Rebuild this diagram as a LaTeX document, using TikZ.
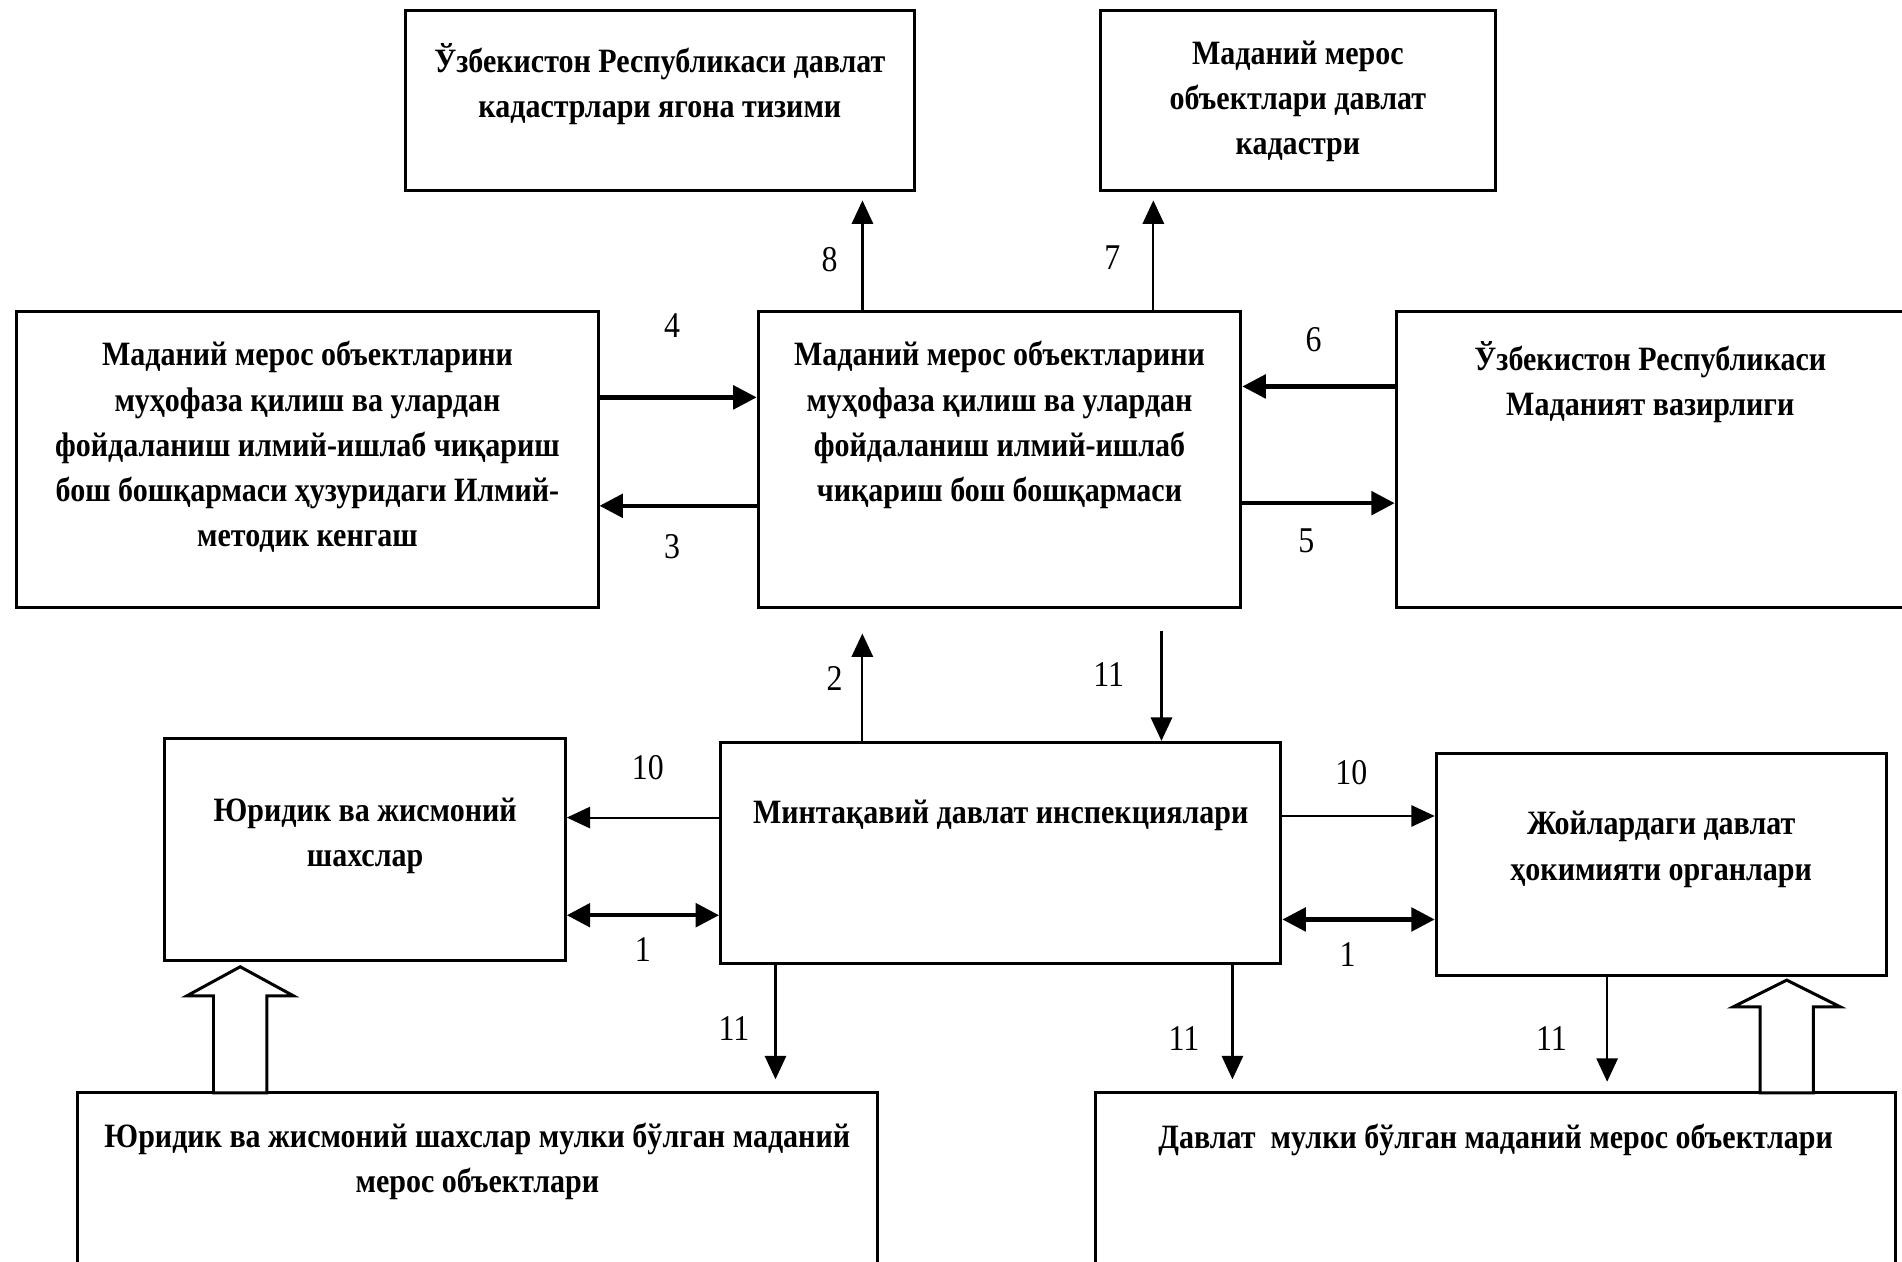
\documentclass[tikz,border=0pt]{standalone}
\usepackage{fontspec}
\setmainfont{Liberation Serif}[FakeStretch=0.88]
\usetikzlibrary{arrows.meta}

\begin{document}
\begin{tikzpicture}[
        box/.style={draw, line width=0.7pt, inner sep=0pt},
        boxtext/.style={anchor=north, align=center, inner sep=0pt, font=\bfseries\fontsize{8}{10.6}\selectfont},
        num/.style={inner sep=0pt, font=\fontsize{8.5}{9}\selectfont},
        arr/.style={-{Triangle[length=5.5pt, width=5pt]}, line width=0.5pt},
        thickarr/.style={-{Triangle[length=5.5pt, width=5.5pt]}, line width=1pt},
        botharr/.style={{Triangle[length=5.5pt, width=5.5pt]}-{Triangle[length=5.5pt, width=5.5pt]}, line width=1pt},
        hollow/.style={draw, line width=0.7pt, fill=white},
        ]
        \useasboundingbox (0,0) rectangle (15.68,-10.40);

        % Boxes
        \node[box, minimum width=4.20cm, minimum height=1.48cm] (unified)   at (5.44,-0.83) {};
        \node[box, minimum width=3.26cm, minimum height=1.48cm] (heritage)  at (10.70,-0.83) {};
        \node[box, minimum width=4.79cm, minimum height=2.44cm] (council)   at (2.535,-3.79) {};
        \node[box, minimum width=3.98cm, minimum height=2.44cm] (board)     at (8.24,-3.79) {};
        \node[box, minimum width=4.19cm, minimum height=2.44cm] (ministry)  at (13.605,-3.79) {};
        \node[box, minimum width=3.30cm, minimum height=1.83cm] (persons)   at (3.01,-7.005) {};
        \node[box, minimum width=4.62cm, minimum height=1.82cm] (inspect)   at (8.25,-7.03) {};
        \node[box, minimum width=3.71cm, minimum height=1.825cm] (authority) at (13.695,-7.1275) {};
        \node[box, minimum width=6.59cm, minimum height=1.44cm] (privobj)   at (3.935,-9.73) {};
        \node[box, minimum width=6.60cm, minimum height=1.44cm] (stateobj)  at (12.33,-9.73) {};

        % Texts
        \node[boxtext] (unifiedtxt)   at ([yshift=-0.27cm]unified.north) {Ўзбекистон Республикаси давлат\\кадастрлари ягона тизими};
        \node[boxtext] (heritagetxt)  at ([yshift=-0.25cm]heritage.north) {Маданий мерос\\объектлари давлат\\кадастри};
        \node[boxtext] (counciltxt)   at ([yshift=-0.25cm]council.north) {Маданий мерос объектларини\\муҳофаза қилиш ва улардан\\фойдаланиш илмий-ишлаб чиқариш\\бош бошқармаси ҳузуридаги Илмий-\\методик кенгаш};
        \node[boxtext] (boardtxt)     at ([yshift=-0.25cm]board.north) {Маданий мерос объектларини\\муҳофаза қилиш ва улардан\\фойдаланиш илмий-ишлаб\\чиқариш бош бошқармаси};
        \node[boxtext] (ministrytxt)  at ([yshift=-0.25cm]ministry.north) {Ўзбекистон Республикаси\\Маданият вазирлиги};
        \node[boxtext] (personstxt)   at ([yshift=-0.49cm]persons.north) {Юридик ва жисмоний\\шахслар};
        \node[boxtext] (inspecttxt)   at ([yshift=-0.48cm]inspect.north) {Минтақавий давлат инспекциялари};
        \node[boxtext] (authoritytxt) at ([yshift=-0.48cm]authority.north) {Жойлардаги давлат\\ҳокимияти органлари};
        \node[boxtext] (privobjtxt)   at ([yshift=-0.25cm]privobj.north) {Юридик ва жисмоний шахслар мулки бўлган маданий\\мерос объектлари};
        \node[boxtext] (stateobjtxt)  at ([yshift=-0.26cm]stateobj.north) {Давлат\ \ мулки бўлган маданий мерос объектлари};

        % Numbers
        \node[num] (n8)  at (6.84,-2.14) {8};
        \node[num] (n7)  at (9.17,-2.12) {7};
        \node[num] (n4)  at (5.54,-2.68) {4};
        \node[num] (n3)  at (5.54,-4.51) {3};
        \node[num] (n6)  at (10.83,-2.80) {6};
        \node[num] (n5)  at (10.77,-4.46) {5};
        \node[num] (n2)  at (6.88,-5.59) {2};
        \node[num] (n11a) at (9.14,-5.56) {11};
        \node[num] (n10a) at (5.34,-6.33) {10};
        \node[num] (n1a)  at (5.30,-7.83) {1};
        \node[num] (n10b) at (11.14,-6.37) {10};
        \node[num] (n1b)  at (11.11,-7.87) {1};
        \node[num] (n11b) at (6.05,-8.48) {11};
        \node[num] (n11c) at (9.76,-8.56) {11};
        \node[num] (n11d) at (12.79,-8.56) {11};

        % Arrows
        \draw[arr, shorten >=0.07cm] ([xshift=-1.13cm]board.north) -- ([xshift=-1.13cm]board.north |- unified.south);
        \draw[arr, shorten >=0.07cm] ([xshift=1.268cm]board.north) -- ([xshift=1.268cm]board.north |- heritage.south);
        \draw[thickarr] ([yshift=0.514cm]council.east) -- ([yshift=0.514cm]council.east -| board.west);
        \draw[thickarr] ([yshift=-0.38cm]board.west) -- ([yshift=-0.38cm]board.west -| council.east);
        \draw[thickarr] ([yshift=0.604cm]ministry.west) -- ([yshift=0.604cm]ministry.west -| board.east);
        \draw[thickarr] ([yshift=-0.358cm]board.east) -- ([yshift=-0.358cm]board.east -| ministry.west);
        \draw[arr, shorten >=0.2cm] ([xshift=-1.141cm]inspect.north) -- ([xshift=-1.141cm]inspect.north |- board.south);
        \draw[arr, shorten <=0.18cm] ([xshift=1.325cm]inspect.north |- board.south) -- ([xshift=1.325cm]inspect.north);
        \draw[arr] ([yshift=0.29cm]inspect.west) -- ([yshift=0.29cm]inspect.west -| persons.east);
        \draw[botharr] ([yshift=-0.515cm]inspect.west) -- ([yshift=-0.515cm]inspect.west -| persons.east);
        \draw[arr] ([yshift=0.303cm]inspect.east) -- ([yshift=0.303cm]inspect.east -| authority.west);
        \draw[botharr] ([yshift=-0.55cm]inspect.east) -- ([yshift=-0.55cm]inspect.east -| authority.west);
        \draw[arr, shorten >=0.1cm] ([xshift=-1.857cm]inspect.south) -- ([xshift=-1.857cm]inspect.south |- privobj.north);
        \draw[arr, shorten >=0.1cm] ([xshift=1.91cm]inspect.south) -- ([xshift=1.91cm]inspect.south |- stateobj.north);
        \draw[arr, shorten >=0.08cm] ([xshift=-0.446cm]authority.south) -- ([xshift=-0.446cm]authority.south |- stateobj.north);

        % Hollow arrows
        \coordinate (upL) at (1.98,-9.01);
        \coordinate (upR) at (14.73,-9.01);
        \draw[hollow] ([xshift=-0.22cm]upL) -- ++(0,0.80) -- ++(-0.22,0) -- ++(0.44,0.24) -- ++(0.44,-0.24) -- ++(-0.22,0) -- ++(0,-0.80) -- cycle;
        \draw[hollow] ([xshift=-0.22cm]upR) -- ++(0,0.71) -- ++(-0.22,0) -- ++(0.44,0.22) -- ++(0.44,-0.22) -- ++(-0.22,0) -- ++(0,-0.71) -- cycle;

    \end{tikzpicture}
\end{document}
